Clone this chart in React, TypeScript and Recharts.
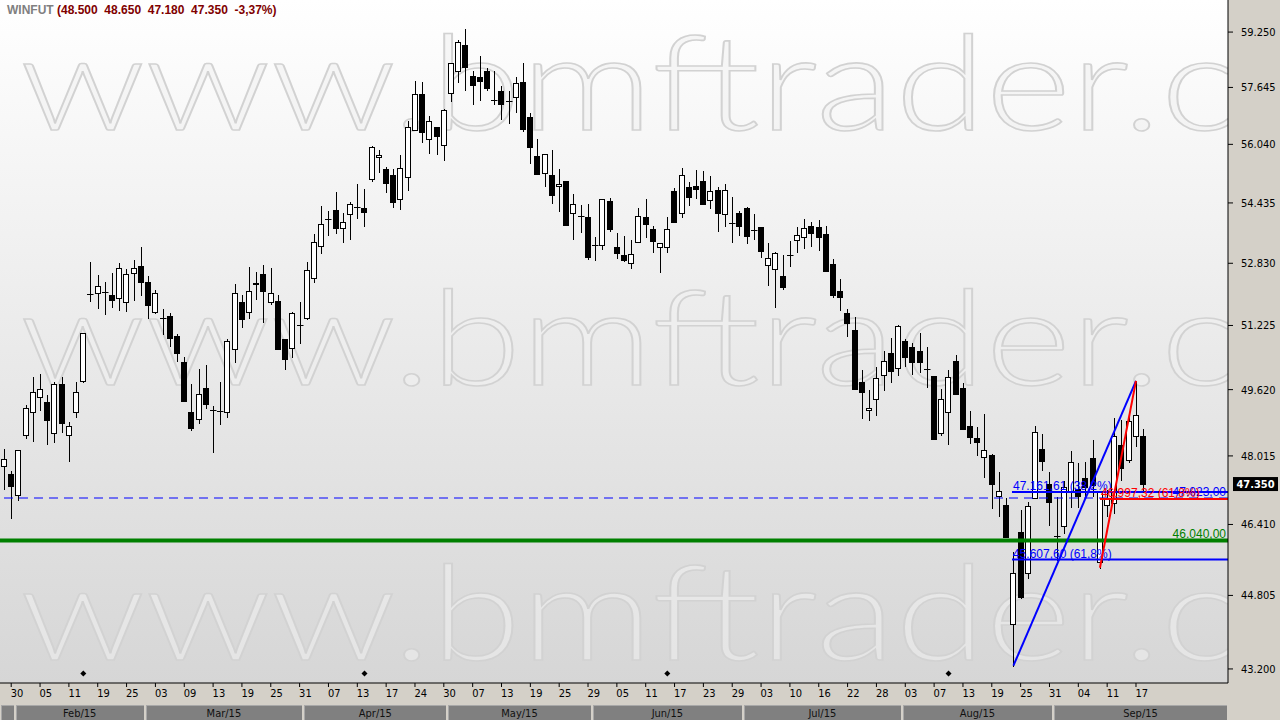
import { ComposedChart, Bar, Scatter, XAxis, YAxis, ReferenceLine } from 'recharts';

// WINFUT daily candles, 29/01/2015 .. 18/09/2015
const opens = [
  47780, 47585, 47090, 48510, 49070, 49435, 49315, 48560, 49760, 48510,
  49070, 49830, 52030, 52050, 52075, 52000, 51920, 51820, 52570, 52750,
  52335, 51560, 51410, 51460, 50955, 50300, 49070, 48900, 49655, 49125,
  49100, 49070, 50625, 51820, 51560, 52300, 52545, 51820, 51850, 50885,
  50650, 51240, 51410, 52440, 53295, 53995, 54245, 53755, 54130, 54320,
  54290, 55075, 55690, 55350, 55185, 54535, 55130, 56435, 57455, 56180,
  56515, 56015, 57475, 58125, 58870, 57970, 57950, 58125, 57290, 57535,
  57260, 57380, 57800, 56795, 55715, 55240, 55195, 54885, 55030, 54155,
  54085, 54055, 53320, 53305, 54480, 53260, 53040, 52830, 53385, 54050,
  53730, 53250, 53250, 54750, 54155, 54860, 54895, 55030, 54505, 54780,
  54130, 53900, 54165, 54300, 53710, 53790, 52780, 52675, 52490, 53055,
  53435, 53515, 53810, 53780, 53595, 52805, 52100, 51535, 51105, 49810,
  49115, 49385, 49975, 50525, 50150, 50825, 50675, 50575, 50140, 49950,
  48560, 49070, 50325, 49655, 48730, 48440, 47985, 48040, 47065, 46860,
  44180, 46235, 45305, 47020, 48175, 47345, 46150, 46385, 47160, 47230,
  47490, 47960, 45565, 46865, 46905, 48280, 47920, 48480, 48500,
];
const highs = [
  48180, 47660, 48160, 49245, 49935, 50000, 49485, 49820, 49935, 48835,
  49805, 51040, 52860, 52525, 52345, 52575, 52830, 52675, 52915, 53250,
  52500, 52135, 51640, 51545, 51005, 50430, 49755, 50125, 50230, 49220,
  49820, 50885, 52285, 52000, 52725, 52595, 52780, 52700, 52000, 50890,
  51570, 51825, 52855, 53595, 54355, 54210, 54730, 54165, 54470, 54950,
  54815, 55995, 55885, 55425, 55350, 55745, 56695, 57830, 57800, 56835,
  56520, 57030, 58350, 59015, 59340, 58125, 58550, 58195, 58115, 57685,
  57540, 57945, 58345, 56920, 56180, 55770, 55885, 55350, 55035, 54680,
  54380, 54405, 53530, 54535, 54570, 53630, 53540, 53445, 54290, 54535,
  53815, 53360, 54050, 54830, 55385, 54995, 55325, 55305, 55165, 54875,
  54950, 54590, 54220, 54325, 54140, 53795, 53355, 53120, 53040, 53410,
  53780, 54005, 53930, 53970, 53815, 52945, 52420, 51640, 51445, 50110,
  49615, 50175, 50590, 50900, 51230, 50890, 50790, 51030, 50675, 49955,
  49630, 50100, 50490, 49795, 49090, 48720, 49020, 48060, 47640, 47020,
  45770, 46735, 46940, 48735, 48535, 47640, 47050, 47410, 48135, 47835,
  47875, 48400, 47180, 47215, 48930, 48880, 49050, 49840, 48650,
];
const lows = [
  47230, 46565, 46980, 48455, 48360, 49125, 48310, 48345, 48600, 47905,
  48945, 49810, 51860, 51680, 51510, 51705, 51630, 51605, 51885, 52005,
  51425, 51535, 51005, 50715, 50340, 49340, 48640, 48800, 49165, 48120,
  48785, 48960, 50310, 51180, 51425, 51910, 51325, 51775, 50635, 50125,
  50440, 50790, 51400, 52350, 53095, 53585, 53620, 53400, 53480, 54040,
  53825, 55020, 55275, 54740, 54335, 54280, 54795, 56430, 56115, 55810,
  55780, 55615, 57265, 57810, 57570, 57180, 57285, 57570, 57175, 56760,
  56645, 56955, 56405, 55515, 55225, 54905, 54440, 54210, 53845, 53480,
  53665, 52950, 52925, 53215, 53675, 52960, 52900, 52715, 53380, 53530,
  53120, 52595, 53120, 53925, 54065, 54380, 54575, 54410, 54305, 53690,
  53825, 53400, 53585, 53355, 53470, 53000, 52275, 51705, 52160, 52760,
  53135, 53235, 53285, 53190, 52635, 51950, 51630, 50965, 49640, 48930,
  48880, 49005, 49615, 49820, 49985, 50215, 50000, 50050, 49695, 48410,
  48525, 48310, 49505, 48650, 48335, 48040, 47505, 46780, 46595, 46125,
  43260, 44755, 45195, 47015, 47670, 46400, 45605, 46220, 46825, 46825,
  47075, 47060, 45425, 46595, 46675, 47450, 47875, 48240, 47180,
];
const closes = [
  47940, 47315, 48150, 49165, 49560, 49630, 48890, 49755, 48815, 48730,
  49560, 51030, 52035, 52230, 52080, 51870, 52700, 52550, 52700, 52350,
  51755, 52050, 51405, 50915, 50540, 49350, 48695, 49510, 49265, 49120,
  49095, 50835, 52050, 51385, 52120, 52305, 52120, 52065, 50640, 50390,
  51535, 51235, 52655, 53385, 53860, 53990, 53770, 53915, 54400, 54315,
  54200, 55960, 55745, 54985, 54470, 55380, 56515, 57455, 56395, 56685,
  56280, 57005, 58340, 58950, 58240, 57720, 57820, 57635, 57285, 57165,
  57255, 57760, 56475, 55975, 55230, 55765, 54640, 54950, 53850, 54405,
  54080, 53005, 53315, 54530, 53745, 53110, 52925, 53065, 54075, 53880,
  53425, 53355, 53730, 53930, 55185, 54590, 54805, 54415, 54750, 54170,
  54780, 53895, 53825, 53560, 53705, 53160, 52960, 53095, 52220, 53060,
  53585, 53770, 53640, 53530, 52640, 52015, 51965, 51300, 49645, 49560,
  49165, 49900, 50325, 50070, 51205, 50425, 50315, 50315, 50135, 48415,
  49385, 49925, 49510, 48660, 48465, 48345, 48145, 47360, 47185, 46130,
  45305, 44760, 46835, 48585, 47885, 46940, 46145, 47275, 47865, 47060,
  47290, 47330, 47175, 47020, 48495, 47735, 48855, 49000, 47350,
];

// bottom axis: a date label every 4th session
const tickIdx = [
  1, 5, 9, 13, 17, 21, 25, 29, 33, 37, 41, 45, 49, 53, 57, 61, 65, 69, 73, 77,
  81, 85, 89, 93, 97, 101, 105, 109, 113, 117, 121, 125, 129, 133, 137, 141, 145, 149, 153, 157,
];
const tickDays = [
  '30', '05', '11', '19', '25', '03', '09', '13', '19', '25', '31', '07', '13', '17', '24', '30', '07', '13', '19', '25',
  '29', '05', '11', '17', '23', '29', '03', '10', '16', '22', '28', '03', '07', '13', '19', '25', '31', '04', '11', '17',
];
const monthStart = [0, 2, 20, 42, 62, 82, 103, 125, 146];
const monthNames = ['', 'Feb/15', 'Mar/15', 'Apr/15', 'May/15', 'Jun/15', 'Jul/15', 'Aug/15', 'Sep/15'];
const priceTicks = [43200, 44805, 46410, 48015, 49620, 51225, 52830, 54435, 56040, 57645, 59250];
const expiryIdx = [11, 50, 92, 131];

// drawn studies
const dashedLevel = 47023;
const greenLevel = 46040;
const blueFibFrom = { i: 140, p: 43270 };
const blueFibTo = { i: 157, p: 49835 };
const blueFibLevels = [47161.61, 45607.6];
const blueFibPct = ['38,2%', '61,8%'];
const redFibFrom = { i: 152, p: 45425 };
const redFibLevel = 46997.32;

const W = 1280;
const H = 720;
const PLOT_W = 1228;
const PLOT_H = 683;
const X_MIN = -0.555;
const X_MAX = 169.76;
const Y_MIN = 42900;
const Y_MAX = 60200;
const MARK_LEVEL = 43100;
const PX_PER_BAR = PLOT_W / (X_MAX - X_MIN);
const FONT = '"DejaVu Sans Condensed", "Liberation Sans", sans-serif';
const LBL_FONT = '"Liberation Sans", Arial, sans-serif';

const data = opens.map((o, i) => ({ i, o, h: highs[i], l: lows[i], c: closes[i] }));
const expiry = expiryIdx.map((i) => ({ i, v: MARK_LEVEL }));

const monthBands = monthStart.map((s, m) => {
  const a = Math.max(X_MIN, s - 0.5);
  const b = m + 1 < monthStart.length ? monthStart[m + 1] - 0.5 : X_MAX;
  return { a, b, mid: (a + b) / 2, name: monthNames[m] };
});

const br = (v: number, d: number) => {
  const [a, b] = v.toFixed(d).split('.');
  const int = a.replace(/\B(?=(\d{3})+(?!\d))/g, '.');
  return b ? `${int},${b}` : int;
};
const k = (v: number) => (v / 1000).toFixed(3);

function Candle(props: any) {
  const { x, y, width, height, payload } = props;
  if (!payload || y == null || height == null) return null;
  const { o, h, l, c } = payload;
  const lh = Math.log(h);
  const span = lh - Math.log(l);
  const py = (v: number) => y + (span > 0 ? ((lh - Math.log(v)) / span) * height : 0);
  const cx = Math.floor(x + width / 2) + 0.5;
  const top = Math.round(py(Math.max(o, c))) + 0.5;
  const bot = Math.round(py(Math.min(o, c))) + 0.5;
  const up = c >= o;
  return (
    <g>
      <line x1={cx} x2={cx} y1={Math.round(y)} y2={Math.round(y + height) + 1} stroke="#000" />
      {bot - top < 1 ? (
        <line x1={cx - 3.5} x2={cx + 3} y1={top} y2={top} stroke="#000" />
      ) : (
        <rect x={cx - 3} y={top} width={5} height={bot - top} fill={up ? '#fff' : '#000'} stroke="#000" />
      )}
    </g>
  );
}

function Diamond(props: any) {
  const { cx, cy } = props;
  if (cx == null) return null;
  return <polygon points={`${cx},${cy - 3} ${cx + 3},${cy} ${cx},${cy + 3} ${cx - 3},${cy}`} fill="#000" />;
}

function DayTick(props: any) {
  const { x, y, payload } = props;
  const n = tickIdx.indexOf(payload.value);
  return (
    <text x={x - 0.5} y={y} dy="0.71em" fontSize={11} fontFamily={FONT} fill="#000" textAnchor="start">
      {tickDays[n]}
    </text>
  );
}

function MonthTick(props: any) {
  const { x, y, index } = props;
  const band = monthBands[index];
  if (!band) return null;
  const half = ((band.b - band.a) / 2) * PX_PER_BAR;
  const x0 = Math.round(x - half) + 1;
  const x1 = Math.round(x + half) - 1;
  return (
    <g>
      <rect x={x0} y={y + 1} width={x1 - x0} height={16} fill="#808080" />
      <line x1={x0} x2={x1} y1={y + 1.5} y2={y + 1.5} stroke="#a8a8a8" />
      <line x1={x0 + 0.5} x2={x0 + 0.5} y1={y + 1} y2={y + 17} stroke="#a8a8a8" />
      {band.name && (
        <text x={x} y={y + 13} fontSize={11} fontFamily={FONT} fill="#111" textAnchor="middle">
          {band.name}
        </text>
      )}
    </g>
  );
}

const leftLabel = (text: string, color: string, dy: number) => (p: any) => (
  <text x={p.viewBox.x + 1} y={p.viewBox.y - dy} fontSize={12} fontFamily={LBL_FONT} fill={color}>
    {text}
  </text>
);
const rightLabel = (text: string, color: string, dy: number) => (p: any) => (
  <text
    x={p.viewBox.x + p.viewBox.width - 2}
    y={p.viewBox.y - dy}
    fontSize={12}
    fontFamily={LBL_FONT}
    fill={color}
    textAnchor="end"
  >
    {text}
  </text>
);

const last = data[data.length - 1];
const prevClose = closes[closes.length - 2];
const pct = ((last.c / prevClose - 1) * 100).toFixed(2).replace('.', ',');

export default function App() {
  return (
    <div style={{ position: 'absolute', left: 0, top: 0, width: W, height: H, background: '#d4d0c8', overflow: 'hidden' }}>
      <div
        style={{
          position: 'absolute',
          left: 0,
          top: 0,
          width: PLOT_W,
          height: PLOT_H,
          background: 'linear-gradient(#ffffff, #d6d6d6)',
        }}
      />
      <svg width={PLOT_W} height={PLOT_H} style={{ position: 'absolute', left: 0, top: 0 }}>
        {[130, 385, 660].map((b) => (
          <text
            key={b}
            x={20}
            y={b}
            fontSize={132}
            textLength={1440}
            lengthAdjust="spacingAndGlyphs"
            fontFamily="Lato, 'Open Sans', sans-serif"
            fontWeight={300}
            fill="#f0f0f0"
            fillOpacity={0.55}
            stroke="#d2d2d2"
            strokeWidth={1.6}
          >
            www.bmftrader.com
          </text>
        ))}
      </svg>
      <div style={{ position: 'absolute', left: 0, top: 0 }}>
        <ComposedChart width={W} height={H} data={data} margin={{ top: 0, right: 0, bottom: 0, left: 0 }}>
          <XAxis
            xAxisId="d"
            dataKey="i"
            type="number"
            domain={[X_MIN, X_MAX]}
            allowDataOverflow
            ticks={tickIdx}
            interval={0}
            height={21}
            tickSize={4}
            tickMargin={2}
            axisLine={{ stroke: '#000' }}
            tickLine={{ stroke: '#000' }}
            tick={<DayTick />}
          />
          <XAxis
            xAxisId="m"
            dataKey="i"
            type="number"
            domain={[X_MIN, X_MAX]}
            allowDataOverflow
            ticks={monthBands.map((b) => b.mid)}
            interval={0}
            height={16}
            tickSize={0}
            tickMargin={0}
            axisLine={false}
            tickLine={false}
            tick={<MonthTick />}
          />
          <YAxis
            yAxisId="p"
            orientation="right"
            scale="log"
            domain={[Y_MIN, Y_MAX]}
            allowDataOverflow
            ticks={priceTicks}
            interval={0}
            width={52}
            tickSize={5}
            tickMargin={8}
            axisLine={{ stroke: '#000' }}
            tickLine={{ stroke: '#000' }}
            tick={{ fontSize: 11, fill: '#000', fontFamily: FONT }}
            tickFormatter={k}
          />
          <Bar
            xAxisId="d"
            yAxisId="p"
            dataKey={(d: any) => [d.l, d.h]}
            barSize={6}
            shape={<Candle />}
            isAnimationActive={false}
          />
          <Scatter
            xAxisId="m"
            yAxisId="p"
            data={expiry}
            dataKey="v"
            shape={<Diamond />}
            isAnimationActive={false}
          />
          <ReferenceLine
            xAxisId="d"
            yAxisId="p"
            y={dashedLevel}
            stroke="#0000ff"
            strokeDasharray="9 6"
            label={rightLabel(br(dashedLevel, 2), '#0000ff', 2)}
          />
          <ReferenceLine
            xAxisId="d"
            yAxisId="p"
            y={greenLevel}
            stroke="#008000"
            strokeWidth={4}
            label={rightLabel(br(greenLevel, 2), '#008000', 3)}
          />
          {blueFibLevels.map((lv, n) => (
            <ReferenceLine
              key={lv}
              xAxisId="d"
              yAxisId="p"
              segment={[
                { x: blueFibFrom.i - 0.2, y: lv },
                { x: X_MAX, y: lv },
              ]}
              stroke="#0000ff"
              strokeWidth={2}
              label={leftLabel(`${br(lv, 2)} (${blueFibPct[n]})`, '#0000ff', 2)}
            />
          ))}
          <ReferenceLine
            xAxisId="d"
            yAxisId="p"
            segment={[
              { x: redFibFrom.i, y: redFibLevel },
              { x: X_MAX, y: redFibLevel },
            ]}
            stroke="#ff0000"
            strokeWidth={2}
            label={leftLabel(`${br(redFibLevel, 2)} (61,8%)`, '#ff0000', 2)}
          />
          <ReferenceLine
            xAxisId="d"
            yAxisId="p"
            segment={[
              { x: blueFibFrom.i, y: blueFibFrom.p },
              { x: blueFibTo.i, y: blueFibTo.p },
            ]}
            stroke="#0000ff"
            strokeWidth={2}
          />
          <ReferenceLine
            xAxisId="d"
            yAxisId="p"
            segment={[
              { x: redFibFrom.i, y: redFibFrom.p },
              { x: blueFibTo.i, y: blueFibTo.p },
            ]}
            stroke="#ff0000"
            strokeWidth={2}
          />
          <ReferenceLine
            xAxisId="d"
            yAxisId="p"
            y={last.c}
            stroke="none"
            label={(p: any) => (
              <g>
                <rect x={p.viewBox.x + p.viewBox.width + 5} y={p.viewBox.y - 7} width={45} height={14} fill="#000" />
                <text
                  x={p.viewBox.x + p.viewBox.width + 27.5}
                  y={p.viewBox.y + 4}
                  fontSize={11}
                  fontWeight="bold"
                  fontFamily={FONT}
                  fill="#fff"
                  textAnchor="middle"
                >
                  {k(last.c)}
                </text>
              </g>
            )}
          />
        </ComposedChart>
      </div>
      <div
        style={{
          position: 'absolute',
          left: 7,
          top: 3,
          fontFamily: LBL_FONT,
          fontSize: 12,
          fontWeight: 'bold',
          whiteSpace: 'pre',
          color: '#800000',
        }}
      >
        <span style={{ color: '#808080' }}>WINFUT</span>
        {` (${k(last.o)}  ${k(last.h)}  ${k(last.l)}  ${k(last.c)}  ${pct}%)`}
      </div>
    </div>
  );
}
